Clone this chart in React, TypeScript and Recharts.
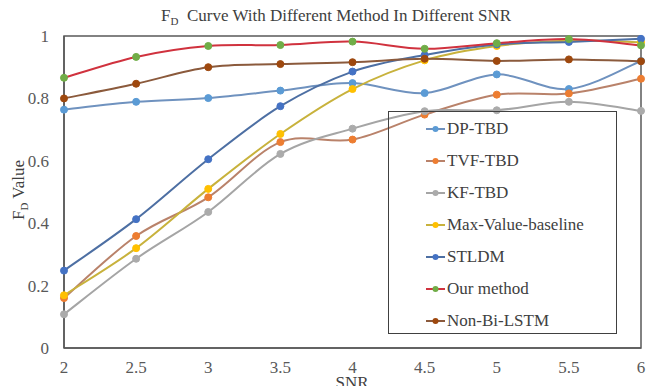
import React from 'react';
import { LineChart, Line, XAxis, YAxis, ReferenceArea } from 'recharts';

const snr = [2, 2.5, 3, 3.5, 4, 4.5, 5, 5.5, 6];
const xTicks = [2, 2.5, 3, 3.5, 4, 4.5, 5, 5.5, 6];
const yTicks = [0, 0.2, 0.4, 0.6, 0.8, 1];

const dpTbd = [0.764, 0.789, 0.801, 0.825, 0.849, 0.817, 0.877, 0.83, 0.92];
const tvfTbd = [0.16, 0.359, 0.483, 0.66, 0.668, 0.748, 0.812, 0.816, 0.863];
const kfTbd = [0.108, 0.286, 0.436, 0.622, 0.703, 0.759, 0.762, 0.789, 0.76];
const maxValue = [0.169, 0.32, 0.51, 0.686, 0.83, 0.922, 0.968, 0.985, 0.98];
const stldm = [0.248, 0.413, 0.605, 0.775, 0.886, 0.939, 0.973, 0.981, 0.991];
const ourMethod = [0.866, 0.933, 0.968, 0.971, 0.982, 0.959, 0.977, 0.99, 0.97];
const nonBiLstm = [0.8, 0.847, 0.9, 0.91, 0.916, 0.927, 0.92, 0.925, 0.919];

const series = [
  { key: 'dp', name: 'DP-TBD', values: dpTbd, line: '#6f92bf', dot: '#5b9bd5' },
  { key: 'tvf', name: 'TVF-TBD', values: tvfTbd, line: '#b9826a', dot: '#ed7d31' },
  { key: 'kf', name: 'KF-TBD', values: kfTbd, line: '#a5a5a5', dot: '#ababab' },
  { key: 'max', name: 'Max-Value-baseline', values: maxValue, line: '#c8b23c', dot: '#ffc000' },
  { key: 'stldm', name: 'STLDM', values: stldm, line: '#4d6fa3', dot: '#4472c4' },
  { key: 'our', name: 'Our method', values: ourMethod, line: '#d0323e', dot: '#70ad47' },
  { key: 'nonbi', name: 'Non-Bi-LSTM', values: nonBiLstm, line: '#8b5a3c', dot: '#9e480e' },
];

const data = snr.map((x, i) => {
  const row: any = { snr: x };
  series.forEach((s) => (row[s.key] = s.values[i]));
  return row;
});

const font = "'Liberation Serif', 'Times New Roman', serif";
const textColor = '#595959';

// excel style smoothed line: catmull-rom through every point
function smoothCurve(context: any) {
  let pts: number[][] = [];
  return {
    areaStart() {},
    areaEnd() {},
    lineStart() {
      pts = [];
    },
    point(x: number, y: number) {
      pts.push([+x, +y]);
    },
    lineEnd() {
      if (!pts.length) return;
      context.moveTo(pts[0][0], pts[0][1]);
      for (let i = 0; i < pts.length - 1; i++) {
        const p0 = pts[i - 1] || pts[i];
        const p1 = pts[i];
        const p2 = pts[i + 1];
        const p3 = pts[i + 2] || p2;
        context.bezierCurveTo(
          p1[0] + (p2[0] - p0[0]) / 6,
          p1[1] + (p2[1] - p0[1]) / 6,
          p2[0] - (p3[0] - p1[0]) / 6,
          p2[1] - (p3[1] - p1[1]) / 6,
          p2[0],
          p2[1]
        );
      }
    },
  };
}

const yLabel = () => (
  <text
    transform="translate(24,190) rotate(-90)"
    textAnchor="middle"
    fontFamily={font}
    fontSize={17}
    fill="#404040"
  >
    <tspan>F</tspan>
    <tspan fontSize={11} dy={4}>D</tspan>
    <tspan dy={-4}> Value</tspan>
  </text>
);

const xLabel = () => (
  <text x={352} y={388} textAnchor="middle" fontFamily={font} fontSize={17} fill="#404040">
    SNR
  </text>
);

export default function App() {
  return (
    <div style={{ position: 'absolute', left: 0, top: 0, width: 646, height: 386, background: '#fff' }}>
      <div
        style={{
          position: 'absolute',
          left: 161,
          top: 6,
          fontFamily: font,
          fontSize: 17,
          lineHeight: '20px',
          color: '#404040',
          whiteSpace: 'nowrap',
        }}
      >
        F<span style={{ fontSize: 11, position: 'relative', top: 4 }}>D</span>&nbsp; Curve With Different Method In Different SNR
      </div>
      <LineChart width={646} height={386} data={data} margin={{ top: 36, right: 5, left: 0, bottom: 0 }}>
        <XAxis
          dataKey="snr"
          type="number"
          domain={[2, 6]}
          ticks={xTicks}
          height={38}
          tickSize={0}
          tickMargin={13}
          axisLine={{ stroke: textColor, strokeWidth: 1.5 }}
          tick={{ fontFamily: font, fontSize: 17, fill: textColor }}
          label={{ content: xLabel }}
        />
        <YAxis
          type="number"
          domain={[0, 1]}
          ticks={yTicks}
          width={64}
          tickSize={0}
          tickMargin={15}
          axisLine={{ stroke: textColor, strokeWidth: 1.5 }}
          tick={{ fontFamily: font, fontSize: 17, fill: textColor }}
          label={{ content: yLabel }}
        />
        <ReferenceArea x1={2} x2={6} y1={0} y2={1} fill="none" stroke={textColor} strokeWidth={1.5} />
        {series.map((s) => (
          <Line
            key={s.key}
            dataKey={s.key}
            name={s.name}
            type={smoothCurve as any}
            stroke={s.line}
            strokeWidth={2}
            dot={{ r: 3.5, fill: s.dot, stroke: s.dot, strokeWidth: 1 }}
            activeDot={false}
            isAnimationActive={false}
          />
        ))}
      </LineChart>
      <div
        style={{
          position: 'absolute',
          left: 388,
          top: 111,
          width: 229,
          height: 223,
          border: '1px solid #404040',
          boxSizing: 'border-box',
        }}
      >
        {series.map((s, i) => (
          <div
            key={s.key}
            style={{ position: 'absolute', left: 37, top: 6 + i * 32.1, height: 21, display: 'flex', alignItems: 'center' }}
          >
            <svg width={19} height={10}>
              <line x1={0} y1={5} x2={19} y2={5} stroke={s.line} strokeWidth={2} />
              <circle cx={9.5} cy={5} r={3} fill={s.dot} />
            </svg>
            <span style={{ marginLeft: 2, fontFamily: font, fontSize: 17, color: '#404040', whiteSpace: 'nowrap' }}>
              {s.name}
            </span>
          </div>
        ))}
      </div>
    </div>
  );
}
